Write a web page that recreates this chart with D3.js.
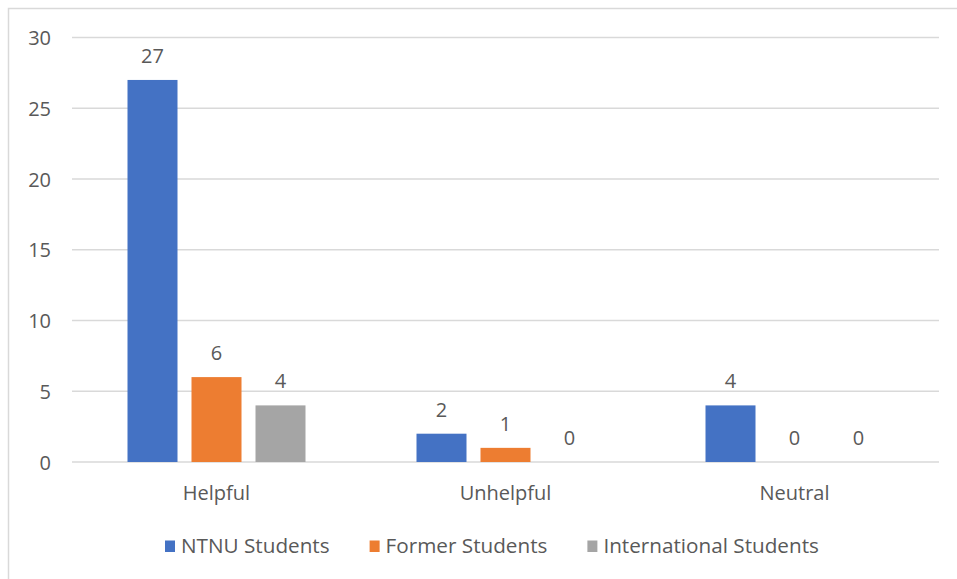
<!DOCTYPE html>
<html>
<head>
<meta charset="utf-8">
<script src="https://cdn.jsdelivr.net/npm/d3@7"></script>
<style>
  html, body { margin: 0; padding: 0; background: #fff; }
  svg { display: block; }
  text { font-family: "Open Sans", "Noto Sans", sans-serif; fill: #595959; }
</style>
</head>
<body>
<svg id="chart" width="957" height="579"></svg>
<script>
const categories = ["Helpful", "Unhelpful", "Neutral"];
const seriesNames = ["NTNU Students", "Former Students", "International Students"];
const ntnuValues = [27, 2, 4];
const formerValues = [6, 1, 0];
const internationalValues = [4, 0, 0];
const yTicks = [0, 5, 10, 15, 20, 25, 30];
const colors = ["#4472C4", "#ED7D31", "#A5A5A5"];

const seriesValues = [ntnuValues, formerValues, internationalValues];
const data = categories.map((c, i) => ({
  category: c,
  values: seriesNames.map((s, j) => ({ series: s, value: seriesValues[j][i], idx: j }))
}));

const svg = d3.select("#chart");

// outer border
svg.append("rect")
  .attr("x", 8.5).attr("y", 8.5)
  .attr("width", 970).attr("height", 600)
  .attr("fill", "none").attr("stroke", "#d9d9d9").attr("stroke-width", 1.5);

const plot = { left: 72, right: 939, top: 37.5, bottom: 462 };

const y = d3.scaleLinear().domain([0, 30]).range([plot.bottom, plot.top]);
const x0 = d3.scaleBand().domain(categories).range([plot.left, plot.right]).padding(0);
const groupPad = (x0.bandwidth() - 178) / 2;
const x1 = d3.scaleBand().domain(seriesNames)
  .range([groupPad, x0.bandwidth() - groupPad])
  .paddingInner(14 / 64).paddingOuter(0);

// gridlines
svg.append("g")
  .selectAll("line")
  .data(yTicks)
  .join("line")
  .attr("x1", plot.left).attr("x2", plot.right)
  .attr("y1", d => y(d)).attr("y2", d => y(d))
  .attr("stroke", "#d9d9d9").attr("stroke-width", 1.5);

// y axis labels
const yAxis = d3.axisLeft(y).tickValues(yTicks).tickSize(0).tickPadding(0);
const yg = svg.append("g").attr("transform", `translate(51,0)`).call(yAxis);
yg.select(".domain").remove();
yg.selectAll("text")
  .attr("font-size", 20)
  .attr("fill", "#595959")
  .style("font-family", '"Open Sans", sans-serif')
  .attr("dy", "0.36em");

// bars
const groups = svg.append("g")
  .selectAll("g")
  .data(data)
  .join("g")
  .attr("transform", d => `translate(${x0(d.category)},0)`);

groups.selectAll("rect")
  .data(d => d.values)
  .join("rect")
  .attr("x", d => x1(d.series))
  .attr("width", x1.bandwidth())
  .attr("y", d => y(d.value))
  .attr("height", d => y(0) - y(d.value))
  .attr("fill", d => colors[d.idx]);

groups.selectAll("text.val")
  .data(d => d.values)
  .join("text")
  .attr("class", "val")
  .attr("x", d => x1(d.series) + x1.bandwidth() / 2)
  .attr("y", d => y(d.value) - 17)
  .attr("text-anchor", "middle")
  .attr("font-size", 20)
  .text(d => d.value);

// x axis labels
const xAxis = d3.axisBottom(x0).tickSize(0).tickPadding(0);
const xg = svg.append("g").attr("transform", `translate(0,486)`).call(xAxis);
xg.select(".domain").remove();
xg.selectAll("text")
  .attr("font-size", 20)
  .attr("fill", "#595959")
  .style("font-family", '"Open Sans", sans-serif')
  .attr("dy", "0.71em");

// legend
const legend = svg.append("g");
let lx = 165;
seriesNames.forEach((s, i) => {
  legend.append("rect")
    .attr("x", lx).attr("y", 540.5)
    .attr("width", 10).attr("height", 11.5)
    .attr("fill", colors[i]);
  const t = legend.append("text")
    .attr("x", lx + 16).attr("y", 553)
    .attr("font-size", 20.7)
    .text(s);
  const w = t.node().getComputedTextLength();
  lx = lx + 16 + w + 40;
});
</script>
</body>
</html>
